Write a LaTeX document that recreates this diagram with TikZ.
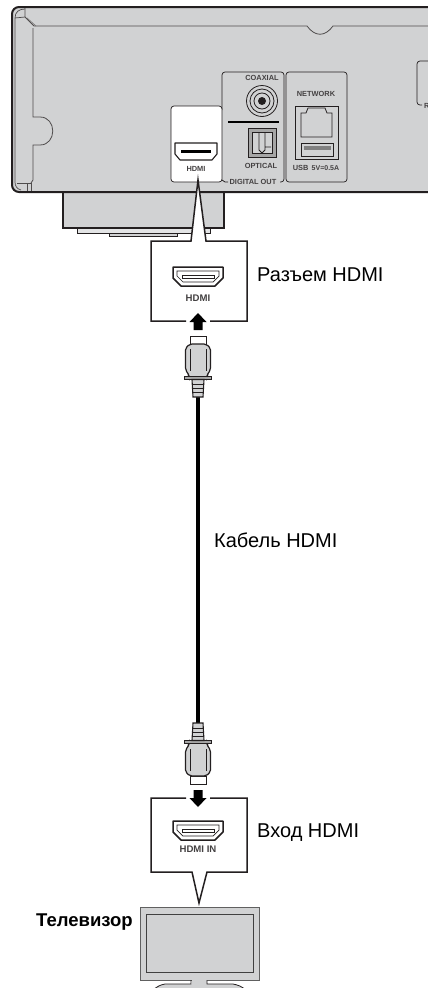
\documentclass[tikz,border=0pt]{standalone}
\usepackage{fontspec}
\setmainfont{Liberation Sans}
\definecolor{bodygray}{HTML}{D1D2D3}
\definecolor{linedark}{HTML}{231F20}
\tikzset{
  panel/.style={draw=linedark, line width=.7pt, rounded corners=3pt},
  tiny/.style={font=\bfseries\fontsize{7.4}{8}\selectfont, text=linedark!85, inner sep=0pt},
  portname/.style={font=\bfseries\fontsize{9.6}{10}\selectfont, text=linedark!85, inner sep=0pt},
  caption/.style={font=\fontsize{20}{22}\selectfont, text=black, anchor=west, inner sep=0pt},
  callout/.style={draw=linedark, line width=1.5pt, fill=white, line join=miter},
  hdmiport/.pic={
    \filldraw[draw=linedark, line width=1.5pt, fill=white, line join=round] (-25,-9) -- (25,-9) -- (25,2) -- (17,10) -- (-17,10) -- (-25,2) -- cycle;
    \draw[linedark, line width=.7pt] (-21,-5) -- (21,-5) -- (21,0) -- (15,6) -- (-15,6) -- (-21,0) -- cycle;
    \draw[linedark, line width=.7pt] (-16,-1) -- (16,-1) -- (16,2) -- (-16,2) -- cycle;
  },
  hdmiplug/.pic={
    % cable end points up, origin at the collar
    \filldraw[draw=linedark, line width=1pt, fill=white] (-8,-42) rectangle (8,-34);
    \filldraw[draw=linedark, line width=1.2pt, fill=bodygray, rounded corners=2pt] (-8,-34) -- (8,-34) -- (12.5,-30) -- (12.5,-8) -- (9,-3) -- (9,0) -- (-9,0) -- (-9,-3) -- (-12.5,-8) -- (-12.5,-30) -- cycle;
    \draw[linedark, line width=.6pt] (-8,-29) -- (-8,-7) (8,-29) -- (8,-7);
    \filldraw[draw=linedark, line width=.8pt, fill=gray!70] (-13.5,-1.5) rectangle (13.5,1.5);
    \filldraw[draw=linedark, line width=1.1pt, fill=bodygray] (-6,1.5) -- (6,1.5) -- (5,19) -- (-5,19) -- cycle;
    \draw[linedark, line width=.7pt] (-6,6) -- (6,6) (-5.5,10) -- (5.5,10) (-5.5,14) -- (5.5,14);
  }
}
\begin{document}
\begin{tikzpicture}[x=1pt,y=-1pt]
\useasboundingbox (0,0) rectangle (428,988);
% foot under the player
\filldraw[fill=bodygray, draw=linedark, line width=1.4pt] (63,190) rectangle (224,228);
\filldraw[fill=bodygray!60, draw=linedark, line width=1pt] (77,228) rectangle (210,233);
\filldraw[fill=bodygray, draw=linedark, line width=1pt] (109,233) rectangle (177,236);
% player rear panel
\filldraw[fill=bodygray, draw=linedark, line width=2pt, rounded corners=7pt] (440,7) -- (12,7) -- (12,192) -- (440,192);
\draw[linedark!80, line width=.8pt] (428,26) -- (333,26) .. controls (325,37) and (315,37) .. (307,26) -- (34,26) -- (25,17) -- (25,8);
\draw[linedark!60, line width=.7pt] (27,18) -- (36,26);
\draw[linedark!80, line width=.8pt] (33,28) -- (33,117) -- (40,117) .. controls (57,117) and (57,145) .. (40,145) -- (33,145) -- (33,180) -- (31,183);
\draw[linedark!80, line width=.7pt] (15,18) -- (25,17) (15,18) .. controls (15,12) and (19,9) .. (25,9);
\draw[linedark!80, line width=.7pt] (15,18) -- (15,182) .. controls (15,186) and (17,189) .. (21,190);
\draw[linedark!80, line width=.7pt] (17,183) -- (31,183) (27,183) -- (27,191) (31,183) -- (31,191);
% panels
\draw[panel] (222,110) -- (222,72) -- (284,72) -- (284,182) -- (280,182);
\draw[panel] (286,72) rectangle (347,182);
\draw[panel] (430,61) -- (417,61) -- (417,105) -- (422,105);
\filldraw[panel, fill=white] (171,106) rectangle (222,182);
\draw[linedark, line width=.7pt] (222,180) -- (225,182) -- (228,182);
\node[tiny] (labelcoax) at (262,78) {COAXIAL};
\node[tiny] (labelopt) at (261,166) {OPTICAL};
\node[tiny] (labeldig) at (253,182) {DIGITAL OUT};
\node[tiny] (labelnet) at (316,94) {NETWORK};
\node[tiny] (labelusb) at (316,168) {USB \,{\fontsize{7}{8}\selectfont 5V=0.5A}};
\node[tiny] (labelhdmi) at (196,169) {HDMI};
\node[tiny, anchor=west] (labelr) at (424,106) {R};
% coaxial jack
\draw[linedark, line width=.8pt] (262,101) circle (15.5) (262,101) circle (12);
\draw[linedark, line width=.8pt] (262,101) circle (8);
\fill[linedark] (262,101) circle (4);
\draw[black, line width=1.8pt] (228,122) -- (279,122);
% optical
\filldraw[fill=gray!70, draw=linedark, line width=1pt] (248,128) rectangle (276,157);
\filldraw[fill=bodygray, draw=linedark, line width=.9pt] (252,132) rectangle (272,153);
\draw[linedark, line width=.8pt] (259,132) -- (259,150) -- (262,153) -- (265,150) -- (265,132) (265,147) -- (271,147);
% network and usb
\draw[linedark, line width=1pt] (295,106) rectangle (338,159);
\draw[linedark, line width=.8pt] (301,137) -- (301,113) -- (306,113) -- (308,108) -- (325,108) -- (327,113) -- (332,113) -- (332,137) -- cycle;
\draw[linedark, line width=.8pt] (301,143) rectangle (333,156);
\fill[gray] (304,146) rectangle (331,150);
% hdmi port on panel
\filldraw[draw=linedark, line width=1.1pt, fill=white, line join=round] (175,143) -- (217,143) -- (217,154) -- (212,160) -- (180,160) -- (175,154) -- cycle;
\fill[black] (181,150) rectangle (211,153);
% upper callout
\filldraw[callout] (186,321) -- (151,321) -- (151,241) -- (191,241) -- (198,180) -- (206,241) -- (247,241) -- (247,321) -- (210,321);
\pic at (198,276) {hdmiport};
\node[portname] (portname) at (198,298) {HDMI};
\node[caption] (portlabel) at (257,275) {Разъем HDMI};
\fill[black] (198,313) -- (206.5,322) -- (202.5,322) -- (202.5,330) -- (193.5,330) -- (193.5,322) -- (189.5,322) -- cycle;
% cable
\draw[black, line width=4.5pt] (198,385) -- (198,730);
\pic at (198,378) {hdmiplug};
\pic[yscale=-1] at (198,742) {hdmiplug};
\node[caption] (cablelabel) at (214,540) {Кабель HDMI};
% lower callout
\filldraw[callout] (186,798) -- (151,798) -- (151,872) -- (192,872) -- (199,903) -- (207,872) -- (247,872) -- (247,798) -- (210,798);
\pic at (198,830) {hdmiport};
\node[portname] (inname) at (198,849) {HDMI IN};
\node[caption] (inlabel) at (257,833) {Вход HDMI};
\fill[black] (198,807) -- (206.5,798) -- (202.5,798) -- (202.5,790) -- (193.5,790) -- (193.5,798) -- (189.5,798) -- cycle;
% television
\node[caption, font=\bfseries\fontsize{18.5}{20}\selectfont] (tvlabel) at (36,922) {Телевизор};
\filldraw[fill=bodygray, draw=gray!75!black, line width=1pt] (140,907) rectangle (259,980);
\draw[gray!50!black, line width=.8pt] (146,914) rectangle (253,972);
\fill[bodygray] (153,990) .. controls (158,986) and (160,985) .. (165,984) -- (192,984) -- (192,980) -- (207,980) -- (207,984) -- (233,984) .. controls (238,985) and (241,986) .. (246,990) -- cycle;
\draw[linedark, line width=.8pt] (153,990) .. controls (158,986) and (160,985) .. (165,984) -- (191,984) -- (191,980);
\draw[linedark, line width=.8pt] (207,980) -- (207,984) -- (233,984) .. controls (238,985) and (241,986) .. (246,990);
\end{tikzpicture}
\end{document}
